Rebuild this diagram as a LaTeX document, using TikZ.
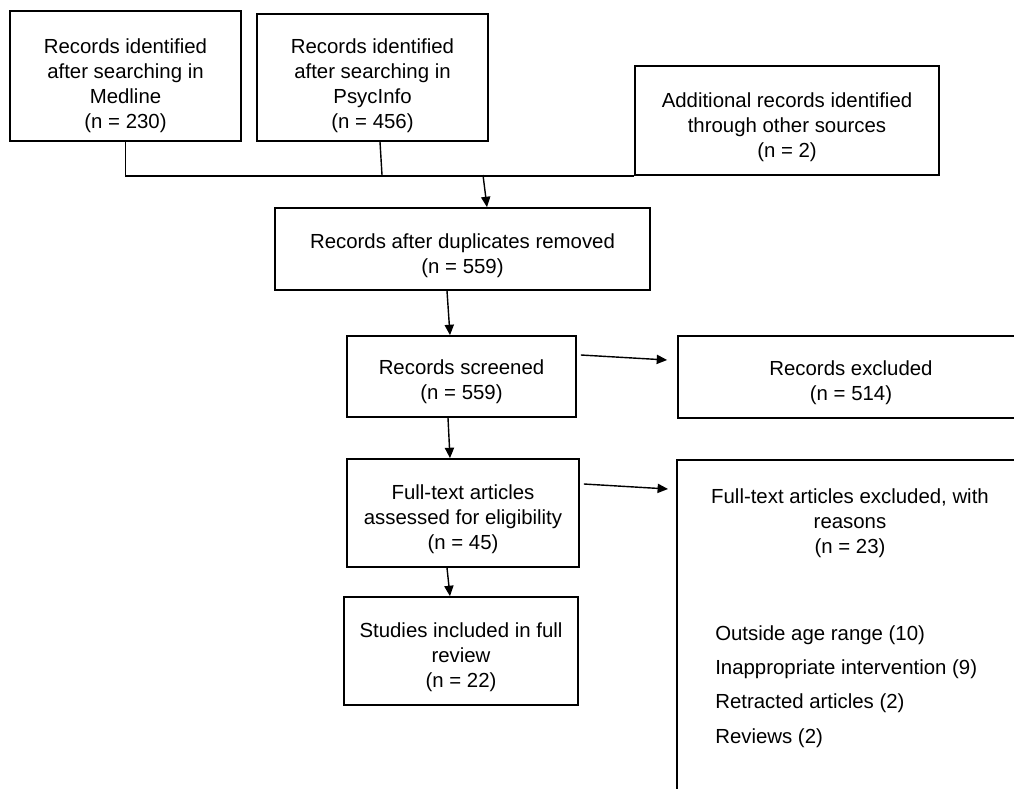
\documentclass[tikz,border=0pt]{standalone}
\usepackage{fontspec}
\setmainfont{Liberation Sans}
\usepackage{tikz}
\usetikzlibrary{arrows.meta,positioning,calc}

\begin{document}
\begin{tikzpicture}[
  x=0.025cm, y=-0.025cm,
  box/.style={draw, line width=1.2pt, align=center, inner sep=0pt, font=\fontsize{14.5pt}{17.8pt}\selectfont},
  txt/.style={inner sep=0pt, font=\fontsize{14.5pt}{17.8pt}\selectfont},
  line/.style={line width=1pt},
  arr/.style={line width=1pt, -{Triangle[length=2.6mm,width=2.3mm]}},
]
\useasboundingbox (0,0) rectangle (1014,789);
\clip (0,0) rectangle (1014,789);
\node[box, minimum width=5.775cm, minimum height=3.25cm, text height=77.5pt] (medline) at (125.5,76) {Records identified\\after searching in\\Medline\\(n = 230)};
\node[box, minimum width=5.775cm, minimum height=3.175cm, text height=75.4pt] (psycinfo) at (372.5,77.5) {Records identified\\after searching in\\PsycInfo\\(n = 456)};
\node[box, minimum width=7.6cm, minimum height=2.725cm, text height=55.4pt] (additional) at (787,120.5) {Additional records identified\\through other sources\\(n = 2)};
\node[box, minimum width=9.375cm, minimum height=2.05cm, text height=37.6pt] (dup) at (462.5,249) {Records after duplicates removed\\(n = 559)};
\node[box, minimum width=5.725cm, minimum height=2.025cm, text height=36.2pt] (screened) at (461.5,376.5) {Records screened\\(n = 559)};
\node[box, minimum width=8.65cm, minimum height=2.05cm, text height=37pt] (excluded) at (851,377) {Records excluded\\(n = 514)};
\node[box, minimum width=5.8cm, minimum height=2.7cm, text height=55.4pt] (fulltext) at (463,513) {Full-text articles\\assessed for eligibility\\(n = 45)};
\node[box, anchor=north west, minimum width=8.75cm, minimum height=8.6cm] (fullexcl) at (676,459) {};
\node[txt, align=center, anchor=north] (fullexclhead) at (850,488) {Full-text articles excluded, with\\reasons\\(n = 23)};
\node[txt, align=left, anchor=north west, font=\fontsize{14.5pt}{24.5pt}\selectfont] (reasons) at (715,625) {Outside age range (10)\\Inappropriate intervention (9)\\Retracted articles (2)\\Reviews (2)};
\node[box, minimum width=5.85cm, minimum height=2.7cm, text height=55.4pt] (included) at (461,651) {Studies included in full\\review\\(n = 22)};

\coordinate (psycjoin) at (382,175);
\coordinate (merge) at (483,175);
\draw[line] (medline.south) |- (additional.south west);
\draw[line] ($(psycinfo.south)+(7.5,0)$) -- (psycjoin);
\draw[arr] (merge) -- ($(dup.north)+(24.5,0)$);
\draw[arr] ($(dup.south)+(-15.5,0)$) -- ($(screened.north)+(-11.5,0)$);
\draw[arr] ($(screened.east)+(4,-21.5)$) -- ($(excluded.west)+(-10,-17)$);
\draw[arr] ($(screened.south)+(-13.5,0)$) -- ($(fulltext.north)+(-13,0)$);
\draw[arr] ($(fulltext.east)+(4,-29)$) -- ($(fullexcl.north west)+(-8,30)$);
\draw[arr] ($(fulltext.south)+(-16,0)$) -- ($(included.north)+(-11,0)$);
\end{tikzpicture}
\end{document}
